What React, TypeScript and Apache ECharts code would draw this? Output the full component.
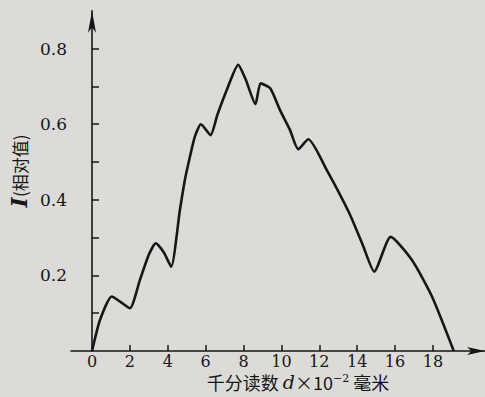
import React, { useEffect, useRef } from "react";
import * as echarts from "echarts";

const curveX = [0, 0.42, 1.04, 1.5, 2.0, 2.53, 3.0, 3.37, 3.8, 4.18, 4.64, 4.9, 5.17, 5.43, 5.75, 6.26, 6.62, 7.11, 7.72, 8.1, 8.63, 8.9, 9.41, 9.92, 10.45, 10.89, 11.42, 12.39, 13.58, 14.3, 14.9, 15.77, 16.9, 17.95, 19.1];
const curveY = [0, 0.082, 0.144, 0.13, 0.113, 0.188, 0.255, 0.285, 0.26, 0.223, 0.373, 0.452, 0.514, 0.567, 0.6, 0.571, 0.625, 0.69, 0.757, 0.72, 0.653, 0.708, 0.695, 0.638, 0.585, 0.534, 0.56, 0.479, 0.365, 0.28, 0.21, 0.302, 0.24, 0.144, 0];
const xTickValues = [2, 4, 6, 8, 10, 12, 14, 16, 18];
const xLabelValues = [0, 2, 4, 6, 8, 10, 12, 14, 16, 18];
const yTickValues = [0.1, 0.2, 0.3, 0.4, 0.5, 0.6, 0.7, 0.8];
const yLabelValues = [0.2, 0.4, 0.6, 0.8];

const INK = "#161616";
const BG = "#dcdbd8";

export default function App() {
  const ref = useRef<HTMLDivElement>(null);
  useEffect(() => {
    document.body.style.margin = "0";
    document.body.style.background = BG;
    const chart = echarts.init(ref.current!, null, { renderer: "svg" });
    chart.setOption({
      animation: false,
      backgroundColor: BG,
      grid: { left: 71, right: 0, top: 10.8, bottom: 46, containLabel: false },
      xAxis: {
        type: "value",
        min: -1.11,
        max: 20.75,
        axisLine: {
          show: true,
          onZero: false,
          symbol: ["none", "arrow"],
          symbolSize: [6, 18],
          lineStyle: { color: INK, width: 1.6 },
        },
        axisTick: {
          show: true,
          inside: true,
          length: 6,
          customValues: xTickValues,
          lineStyle: { color: INK, width: 1.5 },
        },
        axisLabel: {
          show: true,
          customValues: xLabelValues,
          margin: 2,
          color: INK,
          fontFamily: "DejaVu Serif",
          fontSize: 16,
          lineHeight: 16,
          formatter: (v: number) => String(v),
        },
        splitLine: { show: false },
      },
      yAxis: {
        type: "value",
        min: 0,
        max: 0.9,
        axisLine: {
          show: true,
          symbol: ["none", "arrow"],
          symbolSize: [6, 22],
          lineStyle: { color: INK, width: 1.6 },
        },
        axisTick: {
          show: true,
          inside: true,
          length: 7,
          customValues: yTickValues,
          lineStyle: { color: INK, width: 1.5 },
        },
        axisLabel: {
          show: true,
          customValues: yLabelValues,
          margin: 4,
          color: INK,
          fontFamily: "DejaVu Serif",
          fontSize: 17,
          formatter: (v: number) => v.toFixed(1),
        },
        splitLine: { show: false },
      },
      series: [
        {
          type: "line",
          data: curveX.map((x, i) => [x, curveY[i]]),
          smooth: 0.2,
          showSymbol: false,
          lineStyle: { color: INK, width: 2.6 },
        },
      ],
      graphic: [
        {
          type: "text",
          x: 298,
          y: 382,
          style: {
            text: "千分读数 {i|d}×10{s|−2} 毫米",
            fontFamily: "Noto Sans CJK SC",
            fontSize: 18,
            lineHeight: 18,
            fill: INK,
            textAlign: "center",
            textVerticalAlign: "middle",
            rich: {
              i: { fontFamily: "DejaVu Serif", fontStyle: "italic", fontSize: 19, lineHeight: 18, fill: INK },
              s: { fontFamily: "DejaVu Serif", fontSize: 11, lineHeight: 18, fill: INK, verticalAlign: "top" },
            },
          },
        },
        {
          type: "text",
          x: 19,
          y: 171,
          rotation: Math.PI / 2,
          style: {
            text: "{i|I}{c|(相对值)}",
            fill: INK,
            textAlign: "center",
            textVerticalAlign: "middle",
            rich: {
              i: { fontFamily: "DejaVu Serif", fontStyle: "italic", fontWeight: "bold", fontSize: 22, fill: INK },
              c: { fontFamily: "Noto Sans CJK SC", fontSize: 17, fill: INK },
            },
          },
        },
      ],
    });
    return () => chart.dispose();
  }, []);
  return <div ref={ref} style={{ width: 485, height: 397 }} />;
}
